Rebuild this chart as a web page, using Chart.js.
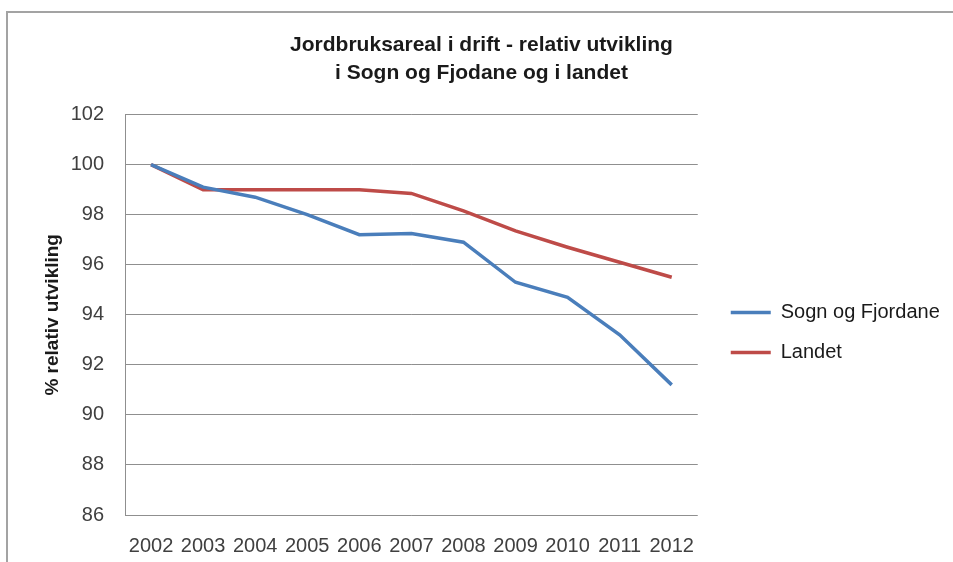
<!DOCTYPE html>
<html>
<head>
<meta charset="utf-8">
<script src="https://cdn.jsdelivr.net/npm/chart.js@4/dist/chart.umd.min.js"></script>
<style>
  body { margin: 0; overflow: hidden; background: #fff; }
  #frame {
    position: absolute; left: 6px; top: 11px;
    width: 960px; height: 560px;
    border: 2px solid #a3a3a3;
  }
  #wrap { position: absolute; left: 0; top: 0; width: 951px; height: 549px; }
</style>
</head>
<body>
<div id="frame">
  <div id="wrap"><canvas id="myChart"></canvas></div>
</div>
<script>
// data
const years = ['2002', '2003', '2004', '2005', '2006', '2007', '2008', '2009', '2010', '2011', '2012'];
const sognOgFjordane = [100, 99.1, 98.7, 98.0, 97.2, 97.25, 96.9, 95.3, 94.7, 93.2, 91.2];
const landet = [100, 99.0, 99.0, 99.0, 99.0, 98.85, 98.15, 97.35, 96.7, 96.1, 95.5];
const yMin = 86, yMax = 102, yStep = 2;

const gridColor = '#8f8f8f';
const textColor = '#404040';

const data = {
  labels: years,
  datasets: [{
    label: 'Sogn og Fjordane',
    data: sognOgFjordane,
    borderColor: '#4a7ebb',
    backgroundColor: '#4a7ebb',
    borderWidth: 3.5,
    pointRadius: 0,
    pointStyle: 'line',
    fill: false
  }, {
    label: 'Landet',
    data: landet,
    borderColor: '#be4b48',
    backgroundColor: '#be4b48',
    borderWidth: 3.5,
    pointRadius: 0,
    pointStyle: 'line',
    fill: false
  }]
};

const ctx = document.getElementById('myChart');
new Chart(ctx, {
  type: 'line',
  data: data,
  options: {
    responsive: true,
    maintainAspectRatio: false,
    animation: false,
    layout: { padding: { left: 15, right: 19, top: 0, bottom: 4 } },
    plugins: {
      title: {
        display: true,
        text: ['Jordbruksareal i drift - relativ utvikling', 'i Sogn og Fjodane og i landet'],
        color: '#1a1a1a',
        font: { family: 'Liberation Sans', size: 21, weight: 'bold', lineHeight: 1.3 },
        padding: { top: 19, bottom: 28 }
      },
      legend: {
        position: 'right',
        title: {
          display: true,
          text: ' ',
          font: { size: 10, lineHeight: 1.2 },
          padding: { top: 82, bottom: 0 }
        },
        labels: {
          usePointStyle: true,
          pointStyleWidth: 40,
          padding: 20,
          color: '#1a1a1a',
          font: { family: 'Liberation Sans', size: 20 }
        }
      },
      tooltip: { enabled: false }
    },
    scales: {
      x: {
        offset: true,
        afterFit: function (scale) { scale.height = 43; },
        grid: { display: false, drawTicks: false },
        border: { display: false },
        ticks: {
          color: textColor,
          padding: 19,
          maxRotation: 0,
          font: { family: 'Liberation Sans', size: 20 }
        }
      },
      y: {
        min: yMin,
        max: yMax,
        afterFit: function (scale) { scale.width = 102; },
        grid: { color: gridColor, lineWidth: 1, drawTicks: false },
        border: { display: true, color: gridColor, width: 1 },
        ticks: {
          stepSize: yStep,
          color: textColor,
          padding: 21,
          font: { family: 'Liberation Sans', size: 20 }
        },
        title: {
          display: true,
          text: '% relativ utvikling',
          color: '#1a1a1a',
          padding: { top: 18, bottom: 0 },
          font: { family: 'Liberation Sans', size: 19, weight: 'bold' }
        }
      },
      gap: {
        display: false,
        position: 'right',
        min: yMin,
        max: yMax,
        afterFit: function (scale) { scale.width = 13; }
      }
    }
  }
});
</script>
</body>
</html>
